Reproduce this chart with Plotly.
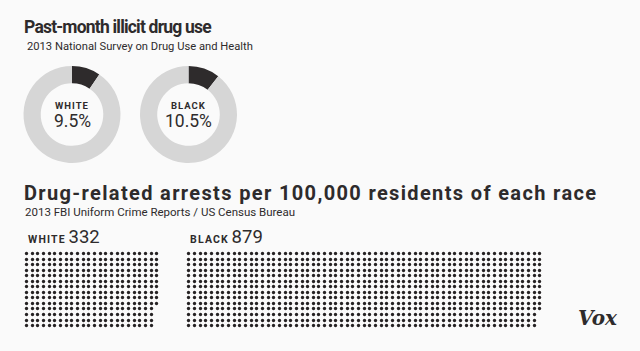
import plotly.graph_objects as go

# ---- data ----
groups = ["WHITE", "BLACK"]
use_pct = [9.5, 10.5]                 # past-month illicit drug use, %
arrests = [332, 879]                  # drug arrests per 100,000 residents
titles = ["Past-month illicit drug use",
          "Drug-related arrests per 100,000 residents of each race"]
subtitles = ["2013 National Survey on Drug Use and Health",
             "2013 FBI Uniform Crime Reports / US Census Bureau"]

W, H = 640, 351
BG = "#fafafa"
DARK = "#2e2b2c"
GRAY = "#d6d6d6"
FONT = "Roboto"

fig = go.Figure()

# ---- donuts ----
donut_cx = [72, 188.5]
donut_cy = 114.5
donut_d = 97
for g, p, cx in zip(groups, use_pct, donut_cx):
    fig.add_trace(go.Pie(
        values=[p, 100 - p], labels=["use", "no"],
        marker=dict(colors=[DARK, GRAY], line=dict(width=0)),
        hole=0.645, sort=False, direction="clockwise", rotation=0,
        textinfo="none", hoverinfo="skip", showlegend=False,
        domain=dict(x=[(cx - donut_d / 2) / W, (cx + donut_d / 2) / W],
                    y=[1 - (donut_cy + donut_d / 2) / H, 1 - (donut_cy - donut_d / 2) / H]),
    ))
    fig.add_annotation(x=cx, y=105, text=f"<span style='letter-spacing:1px'><b>{g}</b></span>",
                       showarrow=False, xref="x", yref="y", xanchor="center", yanchor="middle",
                       font=dict(family=FONT, size=9.5, color=DARK))
    fig.add_annotation(x=cx, y=121, text=f"{p}%", showarrow=False,
                       xref="x", yref="y", xanchor="center", yanchor="middle",
                       font=dict(family=FONT, size=17.5, color=DARK))

# ---- dot grids ----
ROWS = 14
dx, dy = 5.66, 5.52
origins = [(26.0, 253.3), (188.3, 253.3)]
label_x = [26, 188]
for g, n, (ox, oy), lx in zip(groups, arrests, origins, label_x):
    xs = [round(ox + (i // ROWS) * dx) + 0.5 for i in range(n)]
    ys = [round(oy + (i % ROWS) * dy) + 0.5 for i in range(n)]
    fig.add_trace(go.Scatter(x=xs, y=ys, mode="markers",
                             marker=dict(size=3.3, color="#262324", line=dict(width=0)),
                             hoverinfo="skip", showlegend=False))
    fig.add_annotation(x=lx, y=237,
                       text=f"<span style='letter-spacing:1.2px'><b>{g}</b></span> <span style='font-size:18.5px'>{n}</span>",
                       showarrow=False, xref="x", yref="y", xanchor="left", yanchor="middle",
                       font=dict(family=FONT, size=10.5, color=DARK))

# ---- titles ----
fig.add_annotation(x=22, y=27, text=f"<span style='letter-spacing:-0.8px'><b>{titles[0]}</b></span>",
                   showarrow=False, xref="x", yref="y", xanchor="left", yanchor="middle",
                   font=dict(family=FONT, size=17.5, color=DARK))
fig.add_annotation(x=25, y=46, text=subtitles[0], showarrow=False,
                   xref="x", yref="y", xanchor="left", yanchor="middle",
                   font=dict(family=FONT, size=11.2, color=DARK))
fig.add_annotation(x=22, y=193, text=f"<span style='letter-spacing:1.35px'><b>{titles[1]}</b></span>",
                   showarrow=False, xref="x", yref="y", xanchor="left", yanchor="middle",
                   font=dict(family=FONT, size=20, color=DARK))
fig.add_annotation(x=23, y=212, text=subtitles[1], showarrow=False,
                   xref="x", yref="y", xanchor="left", yanchor="middle",
                   font=dict(family=FONT, size=11.5, color=DARK))

# ---- logo ----
fig.add_annotation(x=598, y=318, text="<b><i>Vox</i></b>", showarrow=False,
                   xref="x", yref="y", xanchor="center", yanchor="middle",
                   font=dict(family="DejaVu Serif", size=20, color=DARK))

fig.update_layout(
    width=W, height=H, margin=dict(l=0, r=0, t=0, b=0),
    paper_bgcolor=BG, plot_bgcolor=BG,
    xaxis=dict(range=[0, W], visible=False, fixedrange=True),
    yaxis=dict(range=[H, 0], visible=False, fixedrange=True),
)
fig.write_html("out.html", config={"displayModeBar": False})
